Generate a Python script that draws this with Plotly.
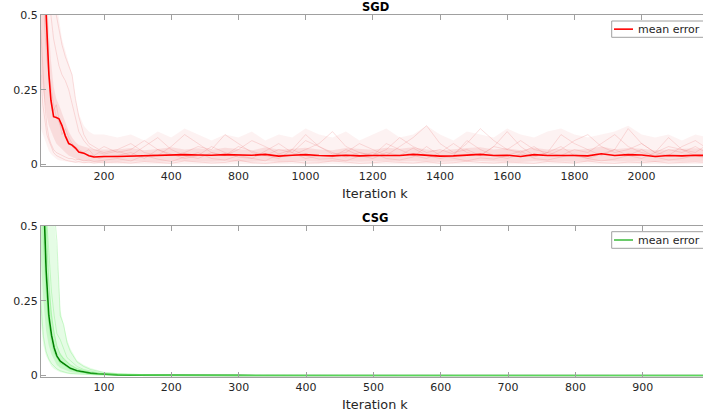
import plotly.graph_objects as go

# ---------------- SGD data ----------------
sgd_k = [12, 18, 24, 30, 36, 42, 50, 58, 66, 75, 85, 95, 105, 115, 125, 140, 155, 170, 185, 200,
         240, 280, 320, 360, 400, 440, 480, 520, 560, 600, 640, 680, 720, 760, 800, 840, 880, 920,
         960, 1000, 1040, 1080, 1120, 1160, 1200, 1240, 1280, 1320, 1360, 1400, 1440, 1480, 1520,
         1560, 1600, 1640, 1680, 1720, 1760, 1800, 1840, 1880, 1920, 1960, 2000]

sgd_mean = [0.9, 0.75, 0.58, 0.42, 0.30, 0.215, 0.16, 0.157, 0.153, 0.13, 0.095, 0.07, 0.065, 0.055,
            0.042, 0.038, 0.029, 0.025, 0.026, 0.027,
            0.027, 0.028, 0.031, 0.030, 0.031, 0.033, 0.032, 0.031, 0.033, 0.032, 0.031, 0.034, 0.028,
            0.031, 0.033, 0.030, 0.029, 0.031, 0.029, 0.030, 0.031, 0.030, 0.034, 0.030, 0.028, 0.029,
            0.031, 0.034, 0.030, 0.031, 0.027, 0.033, 0.030, 0.031, 0.030, 0.029, 0.036, 0.030, 0.033,
            0.032, 0.027, 0.030, 0.029, 0.031, 0.030]

sgd_outer_hi = [1.0, 1.0, 1.0, 1.0, 0.95, 0.8, 0.65, 0.55, 0.48, 0.42, 0.38, 0.34, 0.3, 0.22, 0.17,
                0.13, 0.11, 0.1, 0.1, 0.1,
                0.09, 0.1, 0.08, 0.11, 0.09, 0.12, 0.1, 0.08, 0.1, 0.09, 0.11, 0.08, 0.1, 0.09, 0.12,
                0.1, 0.09, 0.11, 0.08, 0.1, 0.12, 0.09, 0.1, 0.13, 0.1, 0.08, 0.11, 0.1, 0.09, 0.12,
                0.1, 0.09, 0.11, 0.12, 0.1, 0.09, 0.1, 0.11, 0.13, 0.1, 0.09, 0.1, 0.08, 0.1, 0.09]
sgd_outer_lo = [0.12, 0.1, 0.08, 0.06, 0.045, 0.035, 0.025, 0.018, 0.014, 0.012, 0.01, 0.008, 0.006,
                0.005, 0.004, 0.004, 0.003, 0.003, 0.003, 0.003,
                0.002, 0.002, 0.001, 0.002, 0.002, 0.001, 0.002, 0.002, 0.001, 0.002, 0.002, 0.001,
                0.002, 0.002, 0.001, 0.002, 0.002, 0.001, 0.002, 0.002, 0.001, 0.002, 0.002, 0.001,
                0.002, 0.002, 0.001, 0.002, 0.002, 0.001, 0.002, 0.002, 0.001, 0.002, 0.002, 0.001,
                0.002, 0.002, 0.001, 0.002, 0.002, 0.001, 0.002, 0.002, 0.001]
sgd_inner_hi = [0.9, 0.8, 0.7, 0.55, 0.45, 0.35, 0.26, 0.22, 0.2, 0.17, 0.14, 0.11, 0.09, 0.075, 0.065,
                0.06, 0.055, 0.05, 0.05, 0.05,
                0.05, 0.055, 0.048, 0.052, 0.058, 0.05, 0.054, 0.049, 0.056, 0.052, 0.047, 0.058, 0.05,
                0.053, 0.056, 0.05, 0.048, 0.055, 0.051, 0.049, 0.056, 0.053, 0.058, 0.05, 0.047,
                0.052, 0.055, 0.058, 0.05, 0.054, 0.048, 0.056, 0.05, 0.053, 0.049, 0.052, 0.06, 0.051,
                0.055, 0.053, 0.048, 0.05, 0.052, 0.054, 0.05]
sgd_inner_lo = [0.3, 0.25, 0.2, 0.16, 0.13, 0.11, 0.09, 0.07, 0.06, 0.05, 0.04, 0.03, 0.025, 0.02,
                0.015, 0.012, 0.01, 0.009, 0.008, 0.008,
                0.009, 0.01, 0.011, 0.009, 0.01, 0.012, 0.01, 0.009, 0.011, 0.01, 0.009, 0.012, 0.008,
                0.01, 0.011, 0.009, 0.01, 0.011, 0.009, 0.01, 0.012, 0.01, 0.011, 0.009, 0.008, 0.01,
                0.011, 0.012, 0.01, 0.009, 0.008, 0.011, 0.01, 0.01, 0.009, 0.01, 0.012, 0.01, 0.011,
                0.01, 0.008, 0.01, 0.009, 0.011, 0.01]

sgd_runs = [
    [0.45, 0.3, 0.2, 0.13, 0.09, 0.07, 0.05, 0.04, 0.035, 0.03, 0.025, 0.02, 0.02, 0.015, 0.018, 0.012,
     0.015, 0.01, 0.012, 0.015,
     0.02, 0.012, 0.03, 0.018, 0.01, 0.025, 0.04, 0.02, 0.015, 0.03, 0.022, 0.012, 0.035, 0.05, 0.03,
     0.018, 0.02, 0.012, 0.028, 0.04, 0.02, 0.015, 0.025, 0.06, 0.03, 0.02, 0.012, 0.022, 0.018, 0.03,
     0.045, 0.02, 0.015, 0.025, 0.035, 0.02, 0.012, 0.018, 0.03, 0.05, 0.025, 0.015, 0.02, 0.03, 0.02],
    [1.0, 0.95, 0.85, 0.75, 0.6, 0.5, 0.42, 0.38, 0.33, 0.3, 0.28, 0.25, 0.2, 0.15, 0.11, 0.08, 0.06,
     0.05, 0.045, 0.04,
     0.05, 0.07, 0.04, 0.03, 0.06, 0.1, 0.07, 0.04, 0.03, 0.05, 0.08, 0.06, 0.035, 0.03, 0.05, 0.07,
     0.11, 0.06, 0.04, 0.03, 0.05, 0.09, 0.06, 0.04, 0.05, 0.035, 0.07, 0.12, 0.08, 0.05, 0.04, 0.06,
     0.03, 0.05, 0.08, 0.1, 0.06, 0.04, 0.05, 0.07, 0.04, 0.03, 0.06, 0.08, 0.05],
    [0.8, 0.6, 0.45, 0.35, 0.3, 0.25, 0.2, 0.16, 0.14, 0.12, 0.1, 0.08, 0.06, 0.05, 0.04, 0.035, 0.03,
     0.03, 0.02, 0.025,
     0.03, 0.04, 0.02, 0.05, 0.035, 0.02, 0.03, 0.06, 0.04, 0.025, 0.02, 0.045, 0.07, 0.04, 0.02, 0.03,
     0.025, 0.05, 0.03, 0.02, 0.04, 0.03, 0.055, 0.03, 0.02, 0.03, 0.08, 0.05, 0.03, 0.02, 0.035,
     0.025, 0.04, 0.06, 0.03, 0.02, 0.035, 0.05, 0.03, 0.02, 0.04, 0.09, 0.05, 0.03, 0.025],
    [1.0, 1.0, 1.0, 0.95, 0.85, 0.7, 0.6, 0.5, 0.45, 0.4, 0.36, 0.33, 0.3, 0.22, 0.16, 0.1, 0.07, 0.06,
     0.05, 0.06,
     0.04, 0.05, 0.08, 0.05, 0.03, 0.04, 0.06, 0.05, 0.1, 0.07, 0.04, 0.03, 0.05, 0.04, 0.08, 0.06,
     0.035, 0.04, 0.07, 0.05, 0.03, 0.06, 0.09, 0.13, 0.07, 0.04, 0.05, 0.03, 0.06, 0.05, 0.08, 0.05,
     0.04, 0.1, 0.07, 0.05, 0.03, 0.05, 0.12, 0.07, 0.04, 0.06, 0.05, 0.04, 0.07],
    [0.3, 0.2, 0.15, 0.1, 0.08, 0.06, 0.04, 0.03, 0.025, 0.02, 0.015, 0.012, 0.01, 0.008, 0.01, 0.006,
     0.008, 0.005, 0.007, 0.006,
     0.008, 0.005, 0.01, 0.006, 0.004, 0.012, 0.008, 0.005, 0.007, 0.015, 0.006, 0.004, 0.008, 0.01,
     0.005, 0.006, 0.012, 0.008, 0.004, 0.006, 0.01, 0.007, 0.005, 0.009, 0.004, 0.006, 0.011, 0.007,
     0.005, 0.008, 0.006, 0.004, 0.01, 0.007, 0.005, 0.012, 0.006, 0.004, 0.008, 0.006, 0.01, 0.005,
     0.007, 0.009, 0.006],
    [0.6, 0.5, 0.55, 0.4, 0.32, 0.22, 0.18, 0.2, 0.15, 0.1, 0.12, 0.09, 0.07, 0.06, 0.05, 0.04, 0.05,
     0.03, 0.04, 0.035,
     0.045, 0.03, 0.06, 0.09, 0.05, 0.03, 0.02, 0.04, 0.03, 0.06, 0.045, 0.03, 0.02, 0.05, 0.1, 0.06,
     0.04, 0.025, 0.04, 0.03, 0.07, 0.05, 0.03, 0.02, 0.04, 0.07, 0.04, 0.03, 0.06, 0.11, 0.06, 0.03,
     0.04, 0.03, 0.05, 0.04, 0.07, 0.1, 0.06, 0.04, 0.03, 0.05, 0.04, 0.06, 0.035],
]

sgd_tickvals = [200, 400, 600, 800, 1000, 1200, 1400, 1600, 1800]
sgd_ticktext = ["200", "400", "800", "1000", "1200", "1400", "1600", "1800", "2000"]

# ---------------- CSG data ----------------
csg_k = [6, 10, 14, 18, 22, 26, 30, 35, 40, 45, 50, 60, 70, 80, 90, 100, 120, 140, 160, 200, 300,
         400, 500, 600, 700, 800, 900, 990]
csg_mean = [0.9, 0.6, 0.35, 0.2, 0.135, 0.092, 0.065, 0.048, 0.04, 0.033, 0.024, 0.016, 0.011, 0.008,
            0.006, 0.004, 0.002, 0.0012, 0.0008, 0.0005, 0.0003, 0.0002, 0.0002, 0.0001, 0.0001,
            0.0001, 0.0001, 0.0001]
csg_outer_hi = [1.0, 1.0, 1.0, 0.85, 0.65, 0.52, 0.42, 0.22, 0.17, 0.12, 0.09, 0.05, 0.035, 0.025,
                0.018, 0.012, 0.008, 0.006, 0.004, 0.003, 0.002, 0.0015, 0.0015, 0.001, 0.001, 0.001,
                0.001, 0.001]
csg_outer_lo = [0.18, 0.1, 0.065, 0.045, 0.03, 0.022, 0.016, 0.011, 0.008, 0.006, 0.004, 0.003, 0.002,
                0.0015, 0.001, 0.0008, 0.0005, 0.0003, 0.0002, 0.0001, 0, 0, 0, 0, 0, 0, 0, 0]
csg_inner_hi = [1.0, 0.9, 0.6, 0.35, 0.22, 0.15, 0.1, 0.075, 0.06, 0.05, 0.038, 0.026, 0.018, 0.013,
                0.009, 0.006, 0.0035, 0.0022, 0.0015, 0.001, 0.0006, 0.0004, 0.0003, 0.0002, 0.0002,
                0.0002, 0.0002, 0.0002]
csg_inner_lo = [0.4, 0.25, 0.15, 0.1, 0.07, 0.05, 0.035, 0.025, 0.02, 0.015, 0.012, 0.008, 0.005,
                0.004, 0.003, 0.002, 0.001, 0.0007, 0.0005, 0.0003, 0.0002, 0.0001, 0.0001, 0, 0, 0,
                0, 0]
csg_runs = [
    [1.0, 0.8, 0.5, 0.3, 0.2, 0.14, 0.1, 0.07, 0.055, 0.045, 0.035, 0.022, 0.015, 0.01, 0.008, 0.005,
     0.003, 0.002, 0.0012, 0.0008, 0.0005, 0.0003, 0.0003, 0.0002, 0.0002, 0.0001, 0.0001, 0.0001],
    [1.0, 1.0, 0.9, 0.75, 0.62, 0.55, 0.45, 0.2, 0.17, 0.11, 0.08, 0.045, 0.03, 0.02, 0.014, 0.01,
     0.006, 0.004, 0.003, 0.002, 0.001, 0.0008, 0.0006, 0.0005, 0.0004, 0.0003, 0.0003, 0.0003],
    [0.25, 0.13, 0.08, 0.055, 0.04, 0.03, 0.022, 0.016, 0.012, 0.009, 0.007, 0.005, 0.003, 0.002,
     0.0015, 0.001, 0.0006, 0.0004, 0.0003, 0.0002, 0.0001, 0, 0, 0, 0, 0, 0, 0],
    [0.7, 0.45, 0.28, 0.17, 0.11, 0.075, 0.06, 0.04, 0.035, 0.028, 0.02, 0.013, 0.009, 0.006, 0.004,
     0.003, 0.0015, 0.001, 0.0007, 0.0005, 0.0003, 0.0002, 0.0002, 0.0001, 0.0001, 0.0001, 0.0001,
     0.0001],
    [1.0, 0.95, 0.55, 0.4, 0.28, 0.2, 0.14, 0.12, 0.09, 0.06, 0.05, 0.03, 0.02, 0.014, 0.01, 0.007,
     0.004, 0.003, 0.002, 0.0012, 0.0008, 0.0005, 0.0004, 0.0003, 0.0003, 0.0002, 0.0002, 0.0002],
]
csg_tickvals = [100, 200, 300, 400, 500, 600, 700, 800, 900]

y_tickvals = [0, 0.25, 0.5]
y_ticktext = ["0", "0.25", "0.5"]

legend_label = "mean error"
sgd_color = "#ff0000"
csg_color = "rgb(0,130,0)"
csg_legend_color = "rgb(70,190,70)"

FONT = "DejaVu Sans"
TXT = "#262626"
AX = "#a0a0a0"

# pixel geometry helpers (plot area: x 41..703, y 15..377)
L, T, W, H = 41, 15, 662, 362


def px(xp):
    return (xp - L) / W


def py(yp):
    return 1 - (yp - T) / H


fig = go.Figure()


def band(xs, lo, hi, color, xa, ya):
    fig.add_trace(go.Scatter(x=xs, y=lo, mode="lines", line=dict(width=0), hoverinfo="skip",
                             showlegend=False, xaxis=xa, yaxis=ya))
    fig.add_trace(go.Scatter(x=xs, y=hi, mode="lines", line=dict(width=0), fill="tonexty",
                             fillcolor=color, hoverinfo="skip", showlegend=False, xaxis=xa, yaxis=ya))


# SGD panel
band(sgd_k, sgd_outer_lo, sgd_outer_hi, "rgba(245,185,185,0.18)", "x", "y")
band(sgd_k, sgd_inner_lo, sgd_inner_hi, "rgba(240,165,165,0.28)", "x", "y")
for r in sgd_runs:
    fig.add_trace(go.Scatter(x=sgd_k, y=r, mode="lines", line=dict(color="rgba(235,130,130,0.32)", width=0.8),
                             showlegend=False, hoverinfo="skip", xaxis="x", yaxis="y"))
fig.add_trace(go.Scatter(x=sgd_k, y=sgd_mean, mode="lines", name=legend_label, showlegend=False,
                         line=dict(color=sgd_color, width=1.6), xaxis="x", yaxis="y"))

# CSG panel
band(csg_k, csg_outer_lo, csg_outer_hi, "rgba(150,245,150,0.25)", "x2", "y2")
band(csg_k, csg_inner_lo, csg_inner_hi, "rgba(130,240,130,0.30)", "x2", "y2")
fig.add_trace(go.Scatter(x=csg_k, y=csg_mean, mode="lines", name=legend_label, showlegend=False,
                         line=dict(color=csg_color, width=1.6), xaxis="x2", yaxis="y2"))
for r in csg_runs:
    fig.add_trace(go.Scatter(x=csg_k, y=r, mode="lines", line=dict(color="rgba(110,235,110,0.4)", width=0.8),
                             showlegend=False, hoverinfo="skip", xaxis="x2", yaxis="y2"))

xcommon = dict(showline=True, linecolor=AX, linewidth=1, mirror="ticks", ticks="inside", ticklen=5,
               tickcolor=AX, showgrid=False, zeroline=False,
               tickfont=dict(family=FONT, size=11, color=TXT))
ycommon = dict(showline=True, linecolor=AX, linewidth=1, mirror=False, ticks="inside", ticklen=5,
               tickcolor=AX, showgrid=False, zeroline=False, range=[-0.005, 0.5],
               tickvals=y_tickvals, ticktext=y_ticktext,
               tickfont=dict(family=FONT, size=11, color=TXT))

# legend boxes drawn as shapes + text (box is clipped by the right edge like the reference)
shapes = []
annotations = []
for (top, bot, col) in [(21, 37.3, sgd_color), (231.7, 248.3, csg_legend_color)]:
    shapes.append(dict(type="rect", xref="paper", yref="paper", x0=px(611.7), x1=px(760),
                       y0=py(bot), y1=py(top), line=dict(color=AX, width=1), fillcolor="white",
                       layer="above"))
    yc = py((top + bot) / 2)
    shapes.append(dict(type="line", xref="paper", yref="paper", x0=px(614), x1=px(633), y0=yc, y1=yc,
                       line=dict(color=col, width=1.6), layer="above"))
    annotations.append(dict(text=legend_label, x=px(635.5), y=yc, xref="paper", yref="paper",
                            showarrow=False, xanchor="left", yanchor="middle",
                            font=dict(family=FONT, size=11, color=TXT)))

annotations += [
    dict(text="<b>SGD</b>", x=px(375), y=py(7.5), xref="paper", yref="paper", showarrow=False,
         xanchor="center", yanchor="middle", font=dict(family=FONT, size=11.5, color="black")),
    dict(text="<b>CSG</b>", x=px(375), y=py(218.3), xref="paper", yref="paper", showarrow=False,
         xanchor="center", yanchor="middle", font=dict(family=FONT, size=11.5, color="black")),
    dict(text="Iteration k", x=px(374.7), y=py(193), xref="paper", yref="paper",
         showarrow=False, xanchor="center", yanchor="middle",
         font=dict(family=FONT, size=12.8, color=TXT)),
    dict(text="Iteration k", x=px(374.7), y=py(404), xref="paper", yref="paper",
         showarrow=False, xanchor="center", yanchor="middle",
         font=dict(family=FONT, size=12.8, color=TXT)),
]

fig.update_layout(
    width=703, height=415,
    margin=dict(l=L, r=0, t=T, b=415 - T - H),
    paper_bgcolor="white", plot_bgcolor="white",
    showlegend=False,
    xaxis=dict(domain=[0, 1], anchor="y", range=[12.5, 1982.7], tickvals=sgd_tickvals,
               ticktext=sgd_ticktext, **xcommon),
    yaxis=dict(domain=[1 - 151 / H, 1], anchor="x", **ycommon),
    xaxis2=dict(domain=[0, 1], anchor="y2", range=[6.4, 989.5], tickvals=csg_tickvals, **xcommon),
    yaxis2=dict(domain=[0, 151 / H], anchor="x2", **ycommon),
    shapes=shapes,
    annotations=annotations,
)

fig.write_html("out.html", config={"displayModeBar": False},
               post_script="document.body.style.margin='0';document.body.style.overflow='hidden';")
